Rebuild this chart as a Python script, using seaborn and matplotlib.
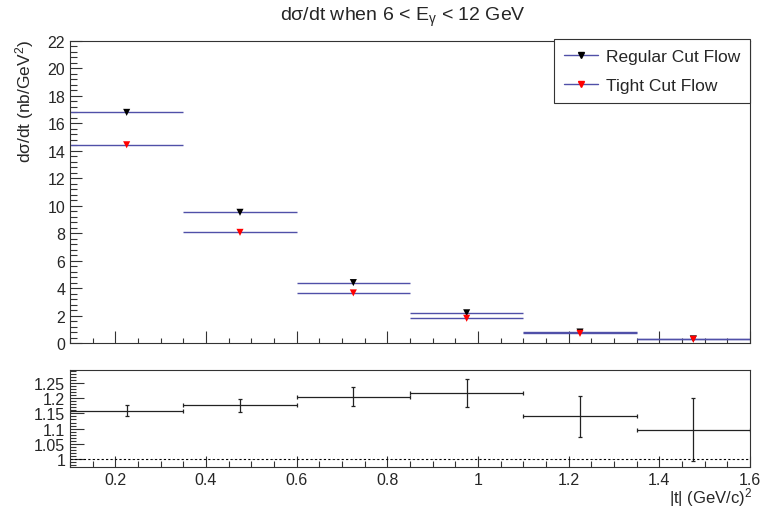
import numpy as np
import pandas as pd
import matplotlib
matplotlib.use("Agg")
import matplotlib.pyplot as plt
from matplotlib.ticker import MultipleLocator
from matplotlib.lines import Line2D
import seaborn as sns

# ---- data ----
bin_lo = [0.1, 0.35, 0.6, 0.85, 1.1, 1.35]
bin_hi = [0.35, 0.6, 0.85, 1.1, 1.35, 1.6]
regular = [16.8, 9.52, 4.4, 2.2, 0.8, 0.3]
tight = [14.44, 8.06, 3.65, 1.8, 0.7, 0.27]
ratio = [1.159, 1.176, 1.205, 1.217, 1.14, 1.097]
ratio_err = [0.019, 0.021, 0.032, 0.046, 0.067, 0.102]
series_names = ["Regular Cut Flow", "Tight Cut Flow"]

centers = [(a + b) / 2 for a, b in zip(bin_lo, bin_hi)]
half_w = [(b - a) / 2 for a, b in zip(bin_lo, bin_hi)]

df = pd.DataFrame({
    "t": centers * 2,
    "xs": np.array(regular + tight),
    "series": [series_names[0]] * 6 + [series_names[1]] * 6,
})

sns.set_theme(style="ticks")
plt.rcParams["font.family"] = ["Liberation Sans", "DejaVu Sans"]
plt.rcParams["mathtext.fontset"] = "custom"
plt.rcParams["mathtext.rm"] = "Liberation Sans"
plt.rcParams["mathtext.it"] = "Liberation Sans"

fig = plt.figure(figsize=(7.6, 5.1), dpi=100)
W, H = 760, 510
ax1 = fig.add_axes([70 / W, 1 - 344 / H, 680 / W, 302 / H])
ax2 = fig.add_axes([70 / W, 1 - 468 / H, 680 / W, 97.5 / H])

line_col = "#5050a8"
marker_cols = {series_names[0]: "black", series_names[1]: "red"}

# horizontal bin lines
ax1.errorbar(centers, regular, xerr=half_w, fmt="none", ecolor=line_col, elinewidth=1.0)
ax1.errorbar(centers, tight, xerr=half_w, fmt="none", ecolor=line_col, elinewidth=1.0)
sns.scatterplot(data=df, x="t", y="xs", hue="series", palette=marker_cols,
                marker="v", s=26, edgecolor="none", legend=False, ax=ax1, zorder=5)

ax1.set_xlim(0.1, 1.6)
ax1.set_ylim(0, 22)
ax1.set_xlabel("")
ax1.set_ylabel("")
ax1.xaxis.set_major_locator(MultipleLocator(0.2))
ax1.xaxis.set_minor_locator(MultipleLocator(0.05))
ax1.yaxis.set_major_locator(MultipleLocator(2))
ax1.yaxis.set_minor_locator(MultipleLocator(0.4))
ax1.tick_params(axis="x", labelbottom=False)

handles = [Line2D([0], [0], color=line_col, lw=1.0, marker="v", markersize=5,
                  markerfacecolor=marker_cols[n], markeredgecolor=marker_cols[n])
           for n in series_names]
leg = ax1.legend(handles, series_names, loc="upper right",
                 bbox_to_anchor=(1.0, 1.007), fontsize=12.5, frameon=True,
                 fancybox=False, framealpha=1, edgecolor="#333333",
                 handlelength=2.0, handletextpad=0.45, borderpad=0.55,
                 labelspacing=0.85, borderaxespad=0)
leg.get_frame().set_linewidth(0.8)

# ratio panel
ax2.errorbar(centers, ratio, xerr=half_w, yerr=ratio_err, fmt="none",
             ecolor="#222222", elinewidth=0.9, capsize=1.5, capthick=0.9)
ax2.axhline(1.0, color="black", ls=(0, (2, 2)), lw=0.8)
ax2.set_xlim(0.1, 1.6)
ax2.set_ylim(0.974, 1.294)
ax2.xaxis.set_minor_locator(MultipleLocator(0.05))
ax2.yaxis.set_minor_locator(MultipleLocator(0.01))
ax2.set_yticks([1.0, 1.05, 1.1, 1.15, 1.2, 1.25])
ax2.set_yticklabels(["1", "1.05", "1.1", "1.15", "1.2", "1.25"])
ax2.set_xticks([0.2, 0.4, 0.6, 0.8, 1.0, 1.2, 1.4, 1.6])
ax2.set_xticklabels(["0.2", "0.4", "0.6", "0.8", "1", "1.2", "1.4", "1.6"])

for ax in (ax1, ax2):
    for sp in ax.spines.values():
        sp.set_linewidth(0.8)
        sp.set_color("#333333")
    ax.tick_params(which="both", direction="in", top=False, right=False,
                   width=0.8, color="#333333", labelsize=11.5, pad=3.5)
ax1.tick_params(axis="x", which="major", length=8.6)
ax1.tick_params(axis="x", which="minor", length=3.6)
ax1.tick_params(axis="y", which="major", length=8.6)
ax1.tick_params(axis="y", which="minor", length=5)
ax2.tick_params(axis="y", which="major", length=10)
ax2.tick_params(axis="y", which="minor", length=4.3)
ax2.tick_params(axis="x", which="major", length=8)
ax2.tick_params(axis="x", which="minor", length=4.3)

fig.text(403 / W, 1 - 17 / H, "dσ/dt when 6 < E$_{\\mathregular{γ}}$ < 12 GeV",
         ha="center", va="center", fontsize=14)
fig.text(25 / W, 1 - 40 / H, "dσ/dt (nb/GeV$^{\\mathregular{2}}$)", rotation=90,
         ha="center", va="top", fontsize=12.5)
fig.text(752 / W, 1 - 498 / H, "|t| (GeV/c)$^{\\mathregular{2}}$", ha="right", va="center",
         fontsize=12)

fig.savefig("out.png", dpi=100)
